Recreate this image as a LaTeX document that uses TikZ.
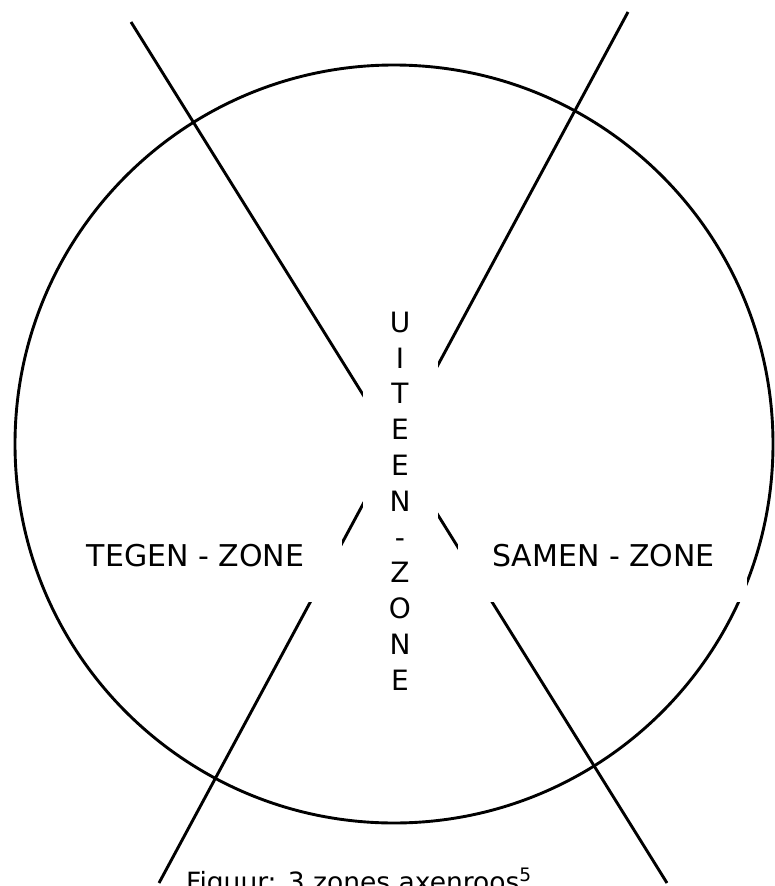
\documentclass[tikz,border=0pt]{standalone}
\usepackage{fontspec}
\setmainfont{DejaVu Sans}
\begin{document}
\begin{tikzpicture}[
    x=1pt, y=-1pt,
    every node/.style={inner sep=0pt},
    rim/.style={draw=black, line width=2.9pt},
    axis/.style={draw=black, line width=2.9pt},
    blank/.style={fill=white, minimum height=92pt},
    zone/.style={font=\fontsize{30}{36}\selectfont},
    upright/.style={fill=white, font=\fontsize{28}{35.8}\selectfont, align=center, minimum width=75pt, minimum height=420pt},
    caption/.style={font=\fontsize{26.5}{30}\selectfont, anchor=base west}
]
    \useasboundingbox (0,0) rectangle (774,886);

% -------------------------
% Circle and axes
% -------------------------
    \coordinate (m) at (394,444);
    \draw[rim] (m) circle[radius=379];

    \coordinate (a1) at (131,22);
    \coordinate (a2) at (667,883);
    \coordinate (b1) at (628,12);
    \coordinate (b2) at (159,883);
    \draw[axis] (a1) -- (a2);
    \draw[axis] (b1) -- (b2);

% -------------------------
% Zones
% -------------------------
    \node[blank, minimum width=280pt] (tegenbox) at (202,556) {};
    \node[zone] (tegen) at (195.5,556) {TEGEN - ZONE};
    \node[blank, minimum width=289pt] (samenbox) at (602.5,556) {};
    \node[zone] (samen) at (603.5,556) {SAMEN - ZONE};
    \node[upright] (uiteen) at (400,501) {U\\I\\T\\E\\E\\N\\-\\Z\\O\\N\\E};

% -------------------------
% Caption
% -------------------------
    \node[caption] (figuur) at (186,891) {Figuur: 3 zones axenroos\textsuperscript{5}};
\end{tikzpicture}
\end{document}
